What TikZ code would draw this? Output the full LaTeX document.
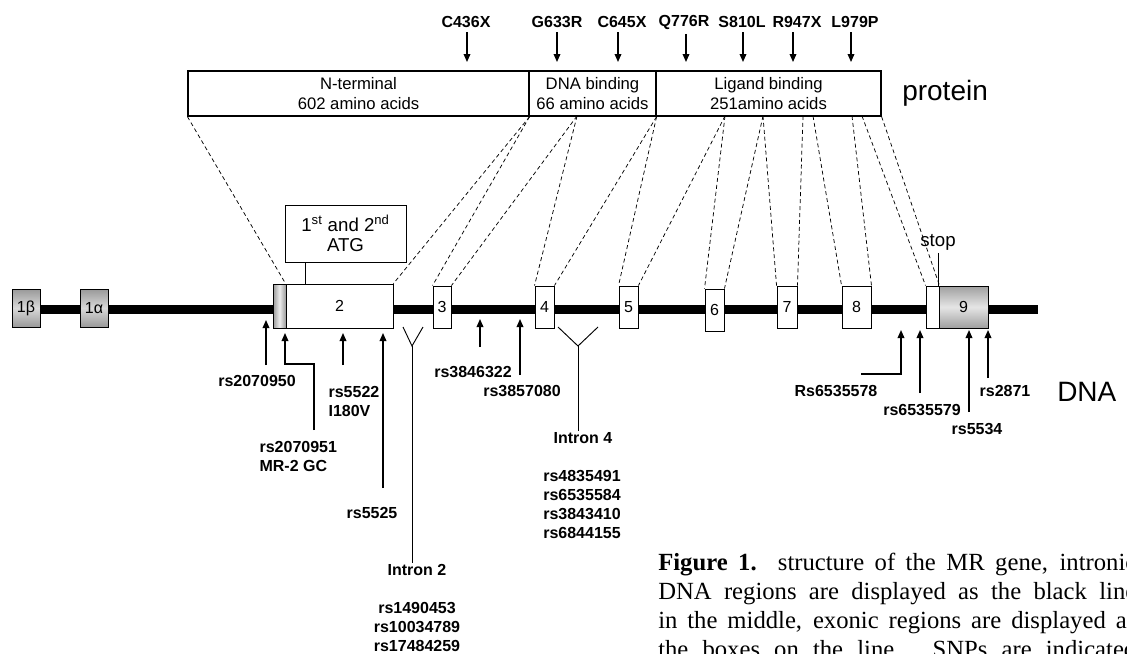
\documentclass[tikz,border=0pt]{standalone}
\usepackage{fontspec}
\setmainfont{Liberation Serif}
\setsansfont{Liberation Sans}
\usepackage{tikz}
\usetikzlibrary{positioning, arrows.meta, calc}
\tikzset{
    exon/.style={draw=black, line width=0.7pt, fill=white, inner sep=0pt, minimum height=31.5pt, font=\sffamily\fontsize{12}{14}\selectfont},
    gexon/.style={exon, top color=gray!80, bottom color=gray!80, middle color=gray!30},
    protbox/.style={draw=black, line width=0.9pt, align=center, inner sep=0pt, minimum height=33.75pt, font=\sffamily\fontsize{12.5}{15.5}\selectfont},
    mut/.style={font=\sffamily\bfseries\fontsize{12}{14}\selectfont},
    snp/.style={font=\sffamily\bfseries\fontsize{12}{14.25}\selectfont, align=center, inner sep=1pt},
    snparrow/.style={->, line width=1pt},
    proj/.style={line width=0.55pt, dash pattern=on 3pt off 2.2pt},
    thin line/.style={line width=0.7pt},
    big/.style={font=\sffamily\fontsize{21}{24}\selectfont, inner sep=0pt},
    capline/.style={font=\rmfamily\fontsize{18.5}{21}\selectfont, inner sep=0pt, anchor=base west}
}

\begin{document}
\begin{tikzpicture}[x=0.75pt, y=-0.75pt, >={Triangle[length=6pt, width=5pt]}, every node/.style={font=\sffamily}]
  \useasboundingbox (0,0) rectangle (1127,653);

  % protein domains
  \node[protbox, minimum width=255.75pt] (nterm) at (358.5,93.5) {N-terminal\\602 amino acids};
  \node[protbox, minimum width=95.25pt]  (dbd)   at (592.5,93.5) {DNA binding\\66 amino acids};
  \node[protbox, minimum width=168.75pt] (lbd)   at (768.5,93.5) {Ligand binding\\251amino acids};
  \node[big, anchor=west] (prot) at (902,93.5) {protein};

  % mutations
  \node[mut] (m1) at (466,22) {C436X};
  \node[mut] (m2) at (557,22) {G633R};
  \node[mut] (m3) at (622,22) {C645X};
  \node[mut] (m4) at (684,22) {Q776R};
  \node[mut] (m5) at (742,22) {S810L};
  \node[mut] (m6) at (797,22) {R947X};
  \node[mut] (m7) at (855,22) {L979P};
  \coordinate (m1t) at (467,62);
  \coordinate (m2t) at (557,62);
  \coordinate (m3t) at (618,62);
  \coordinate (m4t) at (686,62);
  \coordinate (m5t) at (743,62);
  \coordinate (m6t) at (793,62);
  \coordinate (m7t) at (851,62);
  \draw[snparrow] (m1.south -| m1t) -- (m1t);
  \draw[snparrow] (m2.south -| m2t) -- (m2t);
  \draw[snparrow] (m3.south -| m3t) -- (m3t);
  \draw[snparrow] (m4.south -| m4t) -- (m4t);
  \draw[snparrow] (m5.south -| m5t) -- (m5t);
  \draw[snparrow] (m6.south -| m6t) -- (m6t);
  \draw[snparrow] (m7.south -| m7t) -- (m7t);

  % gene
  \coordinate (dnaL) at (26,309.5);
  \coordinate (dnaR) at (1038,309.5);
  \draw[line width=6.75pt] (dnaL) -- (dnaR);
  \node[gexon, minimum width=21pt, minimum height=28.5pt] (e1b) at (26,308) {1β};
  \node[gexon, minimum width=21pt, minimum height=28.5pt] (e1a) at (94,308) {1α};
  \node[exon, minimum width=9.75pt, minimum height=33pt, left color=gray!80, right color=gray!80, middle color=gray!15] (e2s) at (279.5,306) {};
  \node[exon, minimum width=80.25pt, minimum height=33pt] (e2) at (339.5,306) {2};
  \node[exon, minimum width=13.5pt]  (e3) at (442,307) {3};
  \node[exon, minimum width=14.25pt] (e4) at (544.5,307) {4};
  \node[exon, minimum width=14.25pt] (e5) at (628.5,307) {5};
  \node[exon, minimum width=14.25pt] (e6) at (714.5,310) {6};
  \node[exon, minimum width=15pt]    (e7) at (787,307) {7};
  \node[exon, minimum width=21.75pt] (e8) at (856.5,307) {8};
  \node[exon, minimum width=9.75pt]  (e9s) at (932.5,307) {};
  \node[gexon, minimum width=36.75pt, top color=gray!75, bottom color=gray!75, middle color=gray!20] (e9) at (963.5,307) {9};
  \node[big, anchor=west] (dna) at (1057,392) {DNA};

  % start codons and stop
  \node[draw=black, line width=0.7pt, align=center, minimum width=90.75pt, minimum height=42.75pt, inner sep=0pt,
        font=\sffamily\fontsize{14}{15.5}\selectfont] (atg) at (345.5,233.5) {1\textsuperscript{st} and 2\textsuperscript{nd}\\ATG};
  \coordinate (atgx) at (305,0);
  \draw[thin line] (atgx |- atg.south) -- (atgx |- e2.north);
  \node[font=\sffamily\fontsize{14}{16}\selectfont, inner sep=2pt] (stop) at (938,242) {stop};
  \draw[thin line] (stop.south -| e9.north west) -- (e9.north west);

  % protein to exon projection
  \coordinate (pa) at (577,116);
  \coordinate (pb) at (725,116);
  \coordinate (pc) at (763,116);
  \coordinate (pd) at (803,116);
  \coordinate (pe) at (813,116);
  \coordinate (pf) at (852,116);
  \coordinate (pg) at (862,116);
  \draw[proj] (nterm.south west) -- (e2.north west);
  \draw[proj] (nterm.south east) -- (e2.north east);
  \draw[proj] (nterm.south east) -- (e3.north west);
  \draw[proj] (pa) -- (e3.north east);
  \draw[proj] (pa) -- (e4.north west);
  \draw[proj] (dbd.south east) -- (e4.north east);
  \draw[proj] (dbd.south east) -- (e5.north west);
  \draw[proj] (pb) -- (e5.north east);
  \draw[proj] (pb) -- (e6.north west);
  \draw[proj] (pc) -- (e6.north east);
  \draw[proj] (pc) -- (e7.north west);
  \draw[proj] (pd) -- (e7.north east);
  \draw[proj] (pe) -- (e8.north west);
  \draw[proj] (pf) -- (e8.north east);
  \draw[proj] (pg) -- (e9s.north west);
  \draw[proj] (lbd.south east) -- (e9s.north east);

  % SNPs
  \node[snp] (s1) at (257,381) {rs2070950};
  \node[snp, align=left, anchor=west] (s2) at (258,456) {rs2070951\\MR-2 GC};
  \node[snp, align=left, anchor=west] (s3) at (327,401) {rs5522\\I180V};
  \node[snp] (s4) at (372,513) {rs5525};
  \node[snp] (s5) at (473,372) {rs3846322};
  \node[snp] (s6) at (522,391) {rs3857080};
  \node[snp] (s7) at (836,391) {Rs6535578};
  \node[snp] (s8) at (922,410) {rs6535579};
  \node[snp] (s9) at (977,429) {rs5534};
  \node[snp] (s10) at (1005,391) {rs2871};

  \coordinate (t1) at (266,320);  \coordinate (a1) at (266,365);
  \coordinate (t2) at (285,333);  \coordinate (a2) at (314,430);  \coordinate (b2) at (314,364);
  \coordinate (t3) at (343,333);  \coordinate (a3) at (343,365);
  \coordinate (t4) at (383,333);  \coordinate (a4) at (383,488);
  \coordinate (t5) at (480,319);  \coordinate (a5) at (480,347);
  \coordinate (t6) at (520,319);  \coordinate (a6) at (520,375);
  \coordinate (t7) at (901,330);  \coordinate (a7) at (861,374);
  \coordinate (t8) at (920,330);  \coordinate (a8) at (920,393);
  \coordinate (t9) at (969,330);  \coordinate (a9) at (969,412);
  \coordinate (t10) at (988,330); \coordinate (a10) at (988,378);
  \draw[snparrow] (a1) -- (t1);
  \draw[snparrow] (a2) -- (b2) -| (t2);
  \draw[snparrow] (a3) -- (t3);
  \draw[snparrow] (a4) -- (t4);
  \draw[snparrow] (a5) -- (t5);
  \draw[snparrow] (a6) -- (t6);
  \draw[snparrow] (a7) -| (t7);
  \draw[snparrow] (a8) -- (t8);
  \draw[snparrow] (a9) -- (t9);
  \draw[snparrow] (a10) -- (t10);

  % introns
  \coordinate (y2l) at (403,327); \coordinate (y2c) at (412,346); \coordinate (y2r) at (423,327);
  \coordinate (y4l) at (558,327); \coordinate (y4c) at (578,346); \coordinate (y4r) at (598,327);
  \node[snp] (in2) at (417,570) {Intron 2};
  \node[snp] (in2s) at (417,627) {rs1490453\\rs10034789\\rs17484259};
  \node[snp] (in4) at (583,438) {Intron 4};
  \node[snp] (in4s) at (582,504.5) {rs4835491\\rs6535584\\rs3843410\\rs6844155};
  \draw[thin line] (y2l) -- (y2c) -- (y2r);
  \draw[thin line] (y2c) -- (y2c |- in2.north);
  \draw[thin line] (y4l) -- (y4c) -- (y4r);
  \draw[thin line] (y4c) -- (y4c |- in4.north);

  % caption
  \node[capline] (cap1) at (658,570) {\makebox[358.5pt][s]{\textbf{Figure 1.} structure of the MR gene, intronic}};
  \node[capline] (cap2) at (658,599) {\makebox[358.5pt][s]{DNA regions are displayed as the black line}};
  \node[capline] (cap3) at (658,628) {\makebox[358.5pt][s]{in the middle, exonic regions are displayed as}};
  \node[capline] (cap4) at (658,657) {\makebox[358.5pt][s]{the boxes on the line. SNPs are indicated}};
\end{tikzpicture}
\end{document}
